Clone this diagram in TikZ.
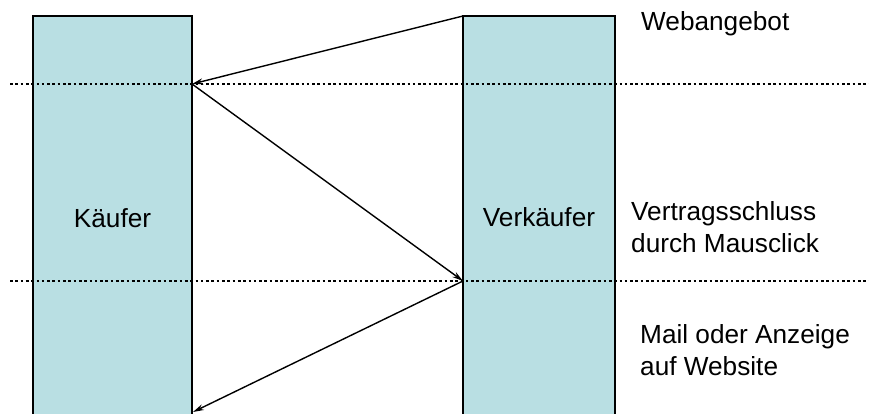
\documentclass[tikz,border=0pt]{standalone}
\usepackage{fontspec}
\setmainfont{Liberation Sans}
\usetikzlibrary{arrows.meta}
\definecolor{lane}{RGB}{185,223,227}
\tikzset{
  lanebox/.style={fill=lane},
  laneedge/.style={line width=2pt, line join=miter},
  timeline/.style={line width=2.6pt, dash pattern=on 2.6pt off 2.7pt},
  msg/.style={line width=1.4pt, -{Stealth[length=11pt, width=6pt]}},
  lbl/.style={font=\fontsize{26.2}{32}\selectfont, inner sep=0pt},
  note/.style={lbl, align=left, anchor=north west}
}
\begin{document}
\begin{tikzpicture}[x=1pt, y=-1pt]
  \useasboundingbox (0,0) rectangle (869,414);

  % the two parties as open-ended columns
  \fill[lanebox] (33,16) rectangle (192,420);
  \draw[laneedge] (33,420) -- (33,16) -- (192,16) -- (192,420);
  \fill[lanebox] (463,16) rectangle (615,420);
  \draw[laneedge] (463,420) -- (463,16) -- (615,16) -- (615,420);

  \node[lbl, anchor=base] (kaeufer) at (112.5,227) {Käufer};
  \node[lbl, anchor=base] (verkaeufer) at (539,226.5) {Verkäufer};

  % phase separators
  \coordinate (s1a) at (10,84);  \coordinate (s1b) at (869,84);
  \coordinate (s2a) at (10,281); \coordinate (s2b) at (869,281);
  \draw[timeline] (s1a) -- (s1b);
  \draw[timeline] (s2a) -- (s2b);

  % message end points on the columns
  \coordinate (v1) at (463,16);
  \coordinate (k1) at (192,84);
  \coordinate (v2) at (463,281);
  \coordinate (k2) at (193,412);

  \draw[msg] (v1) -- (k1);
  \draw[msg] (k1) -- (v2);
  \draw[msg] (v2) -- (k2);

  % phase labels
  \node[lbl, anchor=base west] (web) at (641,31) {Webangebot};
  \node[note] (vertrag) at (631,201) {Vertragsschluss\\durch Mausclick};
  \node[note] (mail) at (640,324.5) {Mail oder Anzeige\\auf Website};
\end{tikzpicture}
\end{document}
